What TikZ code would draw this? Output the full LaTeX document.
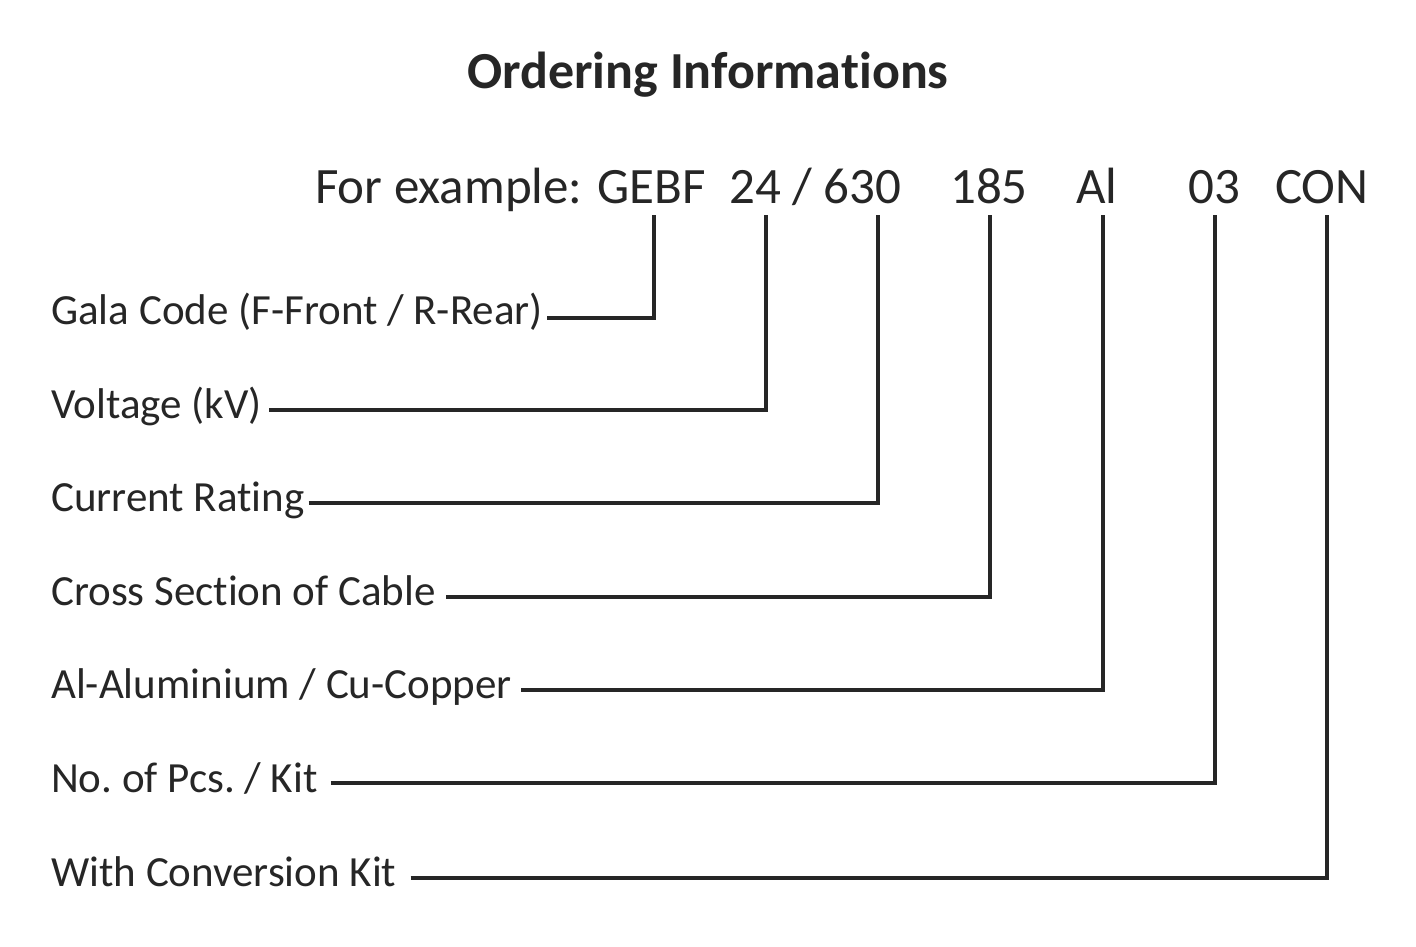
\documentclass[tikz,border=0pt]{standalone}
\usepackage{fontspec}
\setmainfont[Ligatures=NoCommon]{Carlito}
\definecolor{ink}{HTML}{262626}
\frenchspacing
\begin{document}
\begin{tikzpicture}[x=1pt,y=-1pt,
  lab/.style={anchor=base west,inner xsep=3pt,inner ysep=0pt,text=ink,font=\fontsize{43}{50}\selectfont},
  code/.style={anchor=base west,inner sep=0pt,text=ink,font=\fontsize{51}{60}\selectfont},
  conn/.style={draw=ink,line width=3.2pt,line join=miter}]
\useasboundingbox[fill=white] (0,0) rectangle (1416,947);
\node[anchor=base,inner sep=0pt,text=ink,font=\bfseries\fontsize{52}{60}\selectfont] (title) at (708,89) {Ordering Informations};
% code line
\node[code] (ex) at (315,203) {For example:};
\node[code] (gebf) at (597,203) {GEBF};
\node[code] (c24) at (729,203) {24 / 630};
\node[code] (c185) at (950,203) {185};
\node[code] (cal) at (1076,203) {Al};
\node[code] (c03) at (1188,203) {03};
\node[code] (ccon) at (1275,203) {CON};
% labels
\node[lab] (l1) at (48,324) {Gala Code (F-Front / R-Rear)};
\node[lab] (l2) at (48,418) {Voltage (kV)};
\node[lab] (l3) at (48,511) {Current Rating};
\node[lab] (l4) at (48,605) {Cross Section of Cable};
\node[lab] (l5) at (48,698) {Al-Aluminium / Cu-Copper};
\node[lab] (l6) at (48,792) {No. of Pcs. / Kit};
\node[lab] (l7) at (48,886) {With Conversion Kit};
% top ends of connectors
\coordinate (t1) at (654,215);
\coordinate (t2) at (766,215);
\coordinate (t3) at (878,215);
\coordinate (t4) at (990,215);
\coordinate (t5) at (1103,215);
\coordinate (t6) at (1215,215);
\coordinate (t7) at (1327,215);
\draw[conn] ([xshift=1pt]l1.east |- 0,318) -| (t1);
\draw[conn] ([xshift=4pt]l2.east |- 0,410) -| (t2);
\draw[conn] ([xshift=1pt]l3.east |- 0,503) -| (t3);
\draw[conn] ([xshift=7pt]l4.east |- 0,597) -| (t4);
\draw[conn] ([xshift=6pt]l5.east |- 0,690) -| (t5);
\draw[conn] ([xshift=10pt]l6.east |- 0,783) -| (t6);
\draw[conn] ([xshift=11pt]l7.east |- 0,878) -| (t7);
\end{tikzpicture}
\end{document}
